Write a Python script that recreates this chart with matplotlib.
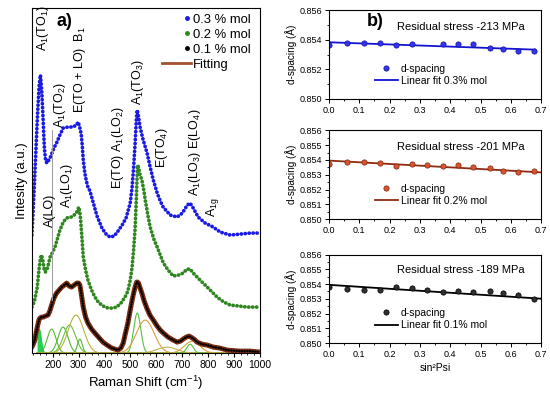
import numpy as np
import matplotlib
matplotlib.use("Agg")
import matplotlib.pyplot as plt
from matplotlib.lines import Line2D
from matplotlib.legend_handler import HandlerLine2D
from matplotlib.ticker import MultipleLocator, FormatStrFormatter

plt.rcParams['font.family'] = ['Liberation Sans', 'DejaVu Sans']
plt.rcParams['mathtext.fontset'] = 'custom'
plt.rcParams['mathtext.rm'] = 'Liberation Sans'
plt.rcParams['mathtext.it'] = 'Liberation Sans:italic'
plt.rcParams['mathtext.default'] = 'regular'

# ---- Raman spectra (arbitrary units) ----
x_03 = [120, 128, 135, 142, 148, 153, 158, 163, 168, 173, 178, 190, 205, 215, 228, 241, 259, 278, 292, 298,
        302, 306, 310, 314, 318, 324, 330, 336, 344, 357, 371, 390, 406, 421, 437, 452, 468, 483, 499, 506,
        512, 518, 523, 526, 530, 537, 549, 564, 576, 588, 603, 615, 626, 653, 680, 700, 719, 730, 742, 761,
        788, 819, 846, 885, 924, 962, 1000]
y_03 = [118, 160, 200, 240, 268, 278, 262, 235, 205, 192, 190, 195, 205, 210, 218, 225, 226, 226, 228, 231,
        228, 224, 219, 208, 193, 180, 172, 166, 162, 150, 137, 125, 119, 116, 117, 122, 128, 135, 150, 165,
        185, 210, 235, 243, 238, 226, 213, 200, 186, 173, 160, 152, 146, 138, 136, 140, 148, 150, 145, 136,
        130, 126, 121, 118, 119, 120, 120]

x_02 = [120, 130, 140, 148, 153, 157, 162, 167, 172, 180, 190, 200, 209, 218, 228, 241, 254, 265, 273, 283,
        293, 301, 305, 308, 313, 318, 327, 336, 350, 363, 376, 389, 402, 414, 430, 447, 463, 479, 490, 499,
        506, 512, 518, 522, 527, 531, 537, 544, 552, 557, 567, 576, 590, 603, 615, 627, 645, 665, 685, 703,
        718, 730, 742, 757, 776, 796, 815, 834, 860, 885, 920, 950, 1000]
y_02 = [46, 52, 65, 85, 95, 98, 93, 84, 81, 85, 96, 101, 106, 114, 123, 131, 135, 136, 136, 138,
        141, 146, 140, 133, 115, 96, 83, 73, 63, 56, 51, 48, 46, 45, 45, 46, 50, 56, 62, 73,
        85, 103, 125, 150, 188, 186, 178, 173, 162, 153, 138, 126, 114, 106, 98, 90, 83, 77, 78, 80,
        84, 84, 80, 76, 71, 66, 61, 56, 51, 48, 47, 46, 46]

x_01 = [120, 130, 140, 147, 151, 157, 163, 172, 182, 189, 196, 205, 215, 225, 235, 245, 254, 264, 273, 283,
        293, 300, 305, 310, 318, 327, 336, 350, 363, 380, 394, 410, 428, 440, 452, 463, 472, 479, 490, 499,
        508, 515, 520, 524, 527, 531, 536, 544, 553, 563, 575, 588, 603, 615, 627, 645, 665, 680, 693, 703,
        715, 725, 733, 745, 757, 775, 796, 820, 845, 873, 920, 960, 1000]
y_01 = [6, 12, 25, 33, 35, 36, 36, 37, 38, 42, 48, 55, 60, 63, 66, 68, 70, 67, 66, 68,
        70, 70, 68, 60, 46, 36, 30, 24, 20, 15, 11, 8, 5, 4, 3, 5, 10, 18, 30, 43,
        55, 63, 68, 71, 71, 70, 66, 60, 52, 45, 38, 33, 27, 23, 20, 16, 13, 11, 12, 14,
        16, 17, 16, 14, 11, 9, 8, 6, 5, 3, 2, 2, 1]

# fitted peak components: centre, height, fwhm
comp_center = [148, 196, 240, 265, 290, 305, 526, 557, 640, 730, 738]
comp_height = [24, 24, 26, 28, 38, 14, 40, 33, 6, 9, 12]
comp_fwhm = [18, 40, 45, 55, 70, 22, 32, 80, 90, 30, 70]
comp_color = ['#10cc40', '#55b833', '#55b833', '#6cc040', '#b5b540', '#55b833',
              '#55c040', '#d9a040', '#c8b050', '#55c040', '#d9a040']

# ---- XRD sin^2 psi data ----
sin2psi = [0.0, 0.06, 0.115, 0.17, 0.22, 0.275, 0.325, 0.375, 0.425, 0.475, 0.53, 0.575, 0.625, 0.675]
sin2psi_03 = [0.0, 0.06, 0.115, 0.17, 0.22, 0.275, 0.375, 0.425, 0.475, 0.53, 0.575, 0.625, 0.675]
d_03 = [0.85366, 0.85382, 0.85378, 0.85378, 0.85366, 0.85375, 0.85369, 0.85369, 0.85369, 0.85346, 0.85337,
        0.85324, 0.85324]
d_02 = [0.85370, 0.85387, 0.85387, 0.85379, 0.85356, 0.85370, 0.85367, 0.85361, 0.85365, 0.85352, 0.85349,
        0.85325, 0.85318, 0.85327]
d_01 = [0.85381, 0.85368, 0.85361, 0.85363, 0.85379, 0.85372, 0.85363, 0.85345, 0.85354, 0.85347, 0.85352,
        0.85340, 0.85327, 0.85297]
fit_x03, fit_y03 = [0.0, 0.68], [0.85384, 0.85334]
fit_x02, fit_y02 = [0.0, 0.70], [0.85396, 0.85316]
fit_x01, fit_y01 = [0.0, 0.70], [0.85395, 0.85301]
stress = ['-213', '-201', '-189']


class MarkerRight(HandlerLine2D):
    # put the legend marker at the right end of the handle
    def create_artists(self, legend, orig_handle, xdescent, ydescent, width, height, fontsize, trans):
        arts = super().create_artists(legend, orig_handle, xdescent, ydescent, width, height,
                                      fontsize, trans)
        for a in arts:
            a.set_xdata([width - xdescent - 0.3 * fontsize] * len(a.get_xdata()))
        return arts


fig = plt.figure(figsize=(5.5, 3.99), dpi=100)

# ================= a) Raman =================
ax = fig.add_axes([0.058, 0.115, 0.415, 0.865])
dots = dict(dash_capstyle='round', linestyle=(0, (0.05, 1.0)))
ax.plot(x_03, y_03, color='#1a1ae6', lw=2.7, **dots)
ax.plot(x_02, y_02, color='#2e861e', lw=2.7, **dots)

xc = np.linspace(140, 1000, 900)
for c, h, w, col in zip(comp_center, comp_height, comp_fwhm, comp_color):
    s = w / 2.3548
    prof = h * np.exp(-0.5 * ((xc - c) / s) ** 2)
    ax.plot(xc, prof, color=col, lw=0.8)
    if col == '#10cc40':
        ax.fill_between(xc, 0, prof, color=col, alpha=0.9, lw=0)

ax.plot(x_01, y_01, color='#7b2d12', lw=3.6, solid_capstyle='round')
ax.plot(x_01, y_01, color='black', lw=1.8, **dots)

ax.plot([196, 196], [53, 223], color='#999999', lw=0.7)

ax.set_xlim(120, 1000)
ax.set_ylim(0, 345)
ax.set_yticks([])
ax.xaxis.set_major_locator(MultipleLocator(100))
ax.xaxis.set_minor_locator(MultipleLocator(25))
ax.tick_params(axis='x', labelsize=7.5, direction='out', length=3, pad=2)
ax.tick_params(axis='x', which='minor', length=1.5)
ax.set_xlabel('Raman Shift (cm$^{-1}$)', fontsize=9.5, labelpad=3)
ax.set_ylabel('Intesity (a.u.)', fontsize=9.5, labelpad=3)

ann = [('A$_1$(TO$_1$)', 162, 325), ('E(TO + LO)  B$_1$', 305, 283), ('A$_1$(TO$_2$)', 228, 248),
       ('A$_1$(TO$_3$)', 530, 271), ('E(TO) A$_1$(LO$_2$)', 452, 205), ('E(TO$_4$)', 622, 205),
       ('A$_1$(LO$_3$) E(LO$_4$)', 750, 201), ('A$_{1g}$', 815, 146), ('A(LO)', 190, 143),
       ('A$_1$(LO$_1$)', 255, 168)]
for t, xx, yy in ann:
    ax.text(xx, yy, t, rotation=90, ha='center', va='center', fontsize=9, clip_on=False)
ax.text(247, 331, 'a)', fontsize=13, fontweight='bold', ha='center', va='center')

handles = [Line2D([], [], ls='none', marker='o', ms=2.5, color='#1a1ae6'),
           Line2D([], [], ls='none', marker='o', ms=2.5, color='#2e861e'),
           Line2D([], [], ls='none', marker='o', ms=2.5, color='black'),
           Line2D([], [], color='#a0522d', lw=2)]
hmap = {h: MarkerRight(numpoints=1) for h in handles[:3]}
ax.legend(handles, ['0.3 % mol', '0.2 % mol', '0.1 % mol', 'Fitting'], loc='upper right',
          frameon=False, fontsize=9.4, handlelength=2.2, handletextpad=0.2, labelspacing=0.22,
          borderaxespad=0.3, bbox_to_anchor=(1.0, 1.01), handler_map=hmap)

# ================= b) d-spacing =================
panels = [
    (0.752, sin2psi_03, d_03, fit_x03, fit_y03, '#3434f0', '#10109a', '#1414d0', '0.3% mol', 0.002),
    (0.451, sin2psi, d_02, fit_x02, fit_y02, '#d8562e', '#7a2410', '#8f2a12', '0.2% mol', 0.001),
    (0.140, sin2psi, d_01, fit_x01, fit_y01, '#303030', '#000000', '#000000', '0.1% mol', 0.001),
]
for i, (bot, xs, ds, fx, fy, mc, me, lc, lab, step) in enumerate(panels):
    bx = fig.add_axes([0.598, bot, 0.386, 0.222])
    bx.plot(fx, fy, color=lc, lw=1.3, label='Linear fit ' + lab)
    bx.plot(xs, ds, ls='none', marker='o', ms=3.8, mfc=mc, mec=me, mew=0.5, label='d-spacing')
    bx.set_xlim(0, 0.7)
    bx.set_ylim(0.850, 0.856)
    bx.xaxis.set_major_locator(MultipleLocator(0.1))
    bx.xaxis.set_minor_locator(MultipleLocator(0.05))
    bx.yaxis.set_major_locator(MultipleLocator(step))
    bx.yaxis.set_minor_locator(MultipleLocator(step / 2))
    bx.xaxis.set_major_formatter(FormatStrFormatter('%.1f'))
    bx.yaxis.set_major_formatter(FormatStrFormatter('%.3f'))
    bx.tick_params(labelsize=6.5, direction='out', length=3, pad=2, width=0.7)
    bx.tick_params(which='minor', length=1.5, width=0.6)
    bx.set_ylabel('d-spacing (\u00c5)', fontsize=7.2, labelpad=2)
    bx.text(0.62, 0.81 if i < 2 else 0.83, 'Residual stress ' + stress[i] + ' MPa',
            transform=bx.transAxes, ha='center', va='center', fontsize=8)
    h, l = bx.get_legend_handles_labels()
    bx.legend(h[::-1], l[::-1], loc='lower center', bbox_to_anchor=(0.48, 0.04), frameon=False,
              fontsize=7.5, handlelength=2.2, handletextpad=0.3, labelspacing=0.2)
    if i == 0:
        bx.text(0.22, 0.88, 'b)', transform=bx.transAxes, fontsize=13, fontweight='bold',
                ha='center', va='center')
    if i == 2:
        bx.set_xlabel('sin\u00b2Psi', fontsize=7.5, labelpad=3)

fig.savefig('out.png', dpi=100)
